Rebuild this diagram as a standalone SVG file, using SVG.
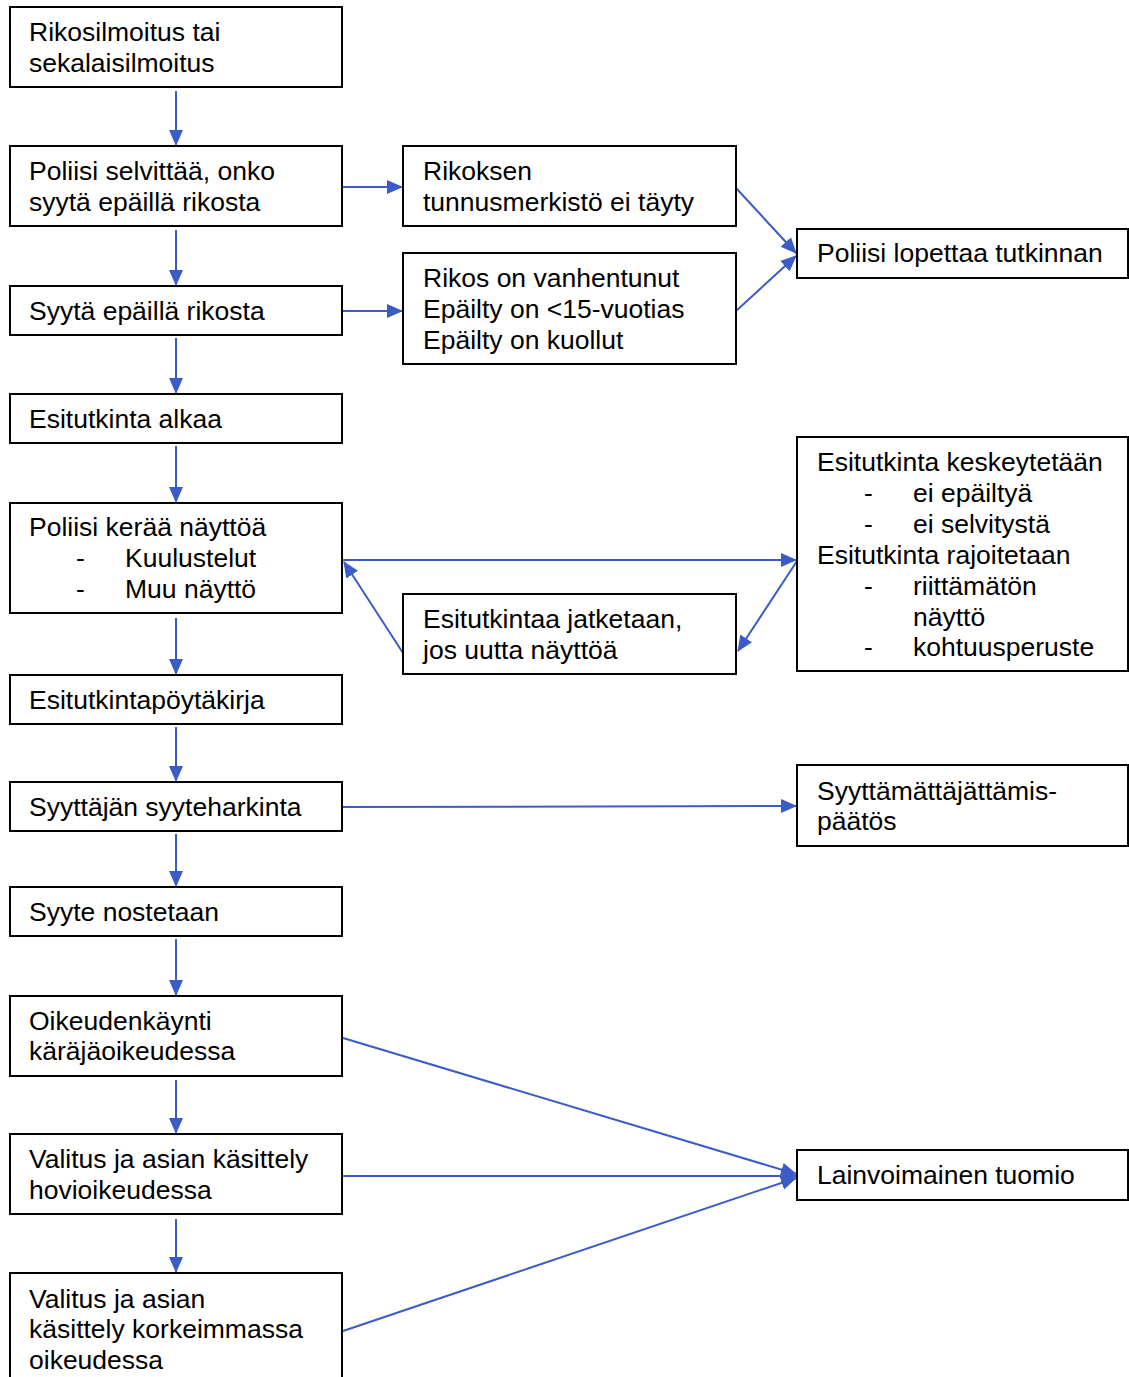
<svg xmlns="http://www.w3.org/2000/svg" width="1129" height="1377" viewBox="0 0 1129 1377">
<style>
.box{fill:#fff;stroke:#000;stroke-width:2}
text{font-family:"Liberation Sans",Arial,sans-serif;font-size:26.5px;fill:#000}
.c{stroke:#3B5BC6;stroke-width:2;fill:none;marker-end:url(#ah)}
</style>
<defs>
<marker id="ah" markerUnits="userSpaceOnUse" markerWidth="16" markerHeight="16" viewBox="0 0 16 16" refX="15" refY="8" orient="auto">
<path d="M0,1 L16,8 L0,15 Z" fill="#3B5BC6"/>
</marker>
</defs>
<g id="connectors">
<line class="c" x1="176" y1="91" x2="176" y2="145"/>
<line class="c" x1="176" y1="230" x2="176" y2="285"/>
<line class="c" x1="176" y1="338" x2="176" y2="393"/>
<line class="c" x1="176" y1="446" x2="176" y2="502"/>
<line class="c" x1="176" y1="618" x2="176" y2="674"/>
<line class="c" x1="176" y1="727" x2="176" y2="781"/>
<line class="c" x1="176" y1="834" x2="176" y2="886"/>
<line class="c" x1="176" y1="939" x2="176" y2="995"/>
<line class="c" x1="176" y1="1080" x2="176" y2="1133"/>
<line class="c" x1="176" y1="1219" x2="176" y2="1272"/>
<line class="c" x1="343" y1="187" x2="402" y2="187"/>
<line class="c" x1="343" y1="311" x2="402" y2="311"/>
<line class="c" x1="736" y1="188" x2="796" y2="253"/>
<line class="c" x1="736" y1="311" x2="796" y2="256"/>
<line class="c" x1="343" y1="560" x2="796" y2="560"/>
<line class="c" x1="403" y1="653" x2="344" y2="562"/>
<line class="c" x1="797" y1="561" x2="738" y2="651"/>
<line class="c" x1="343" y1="807" x2="796" y2="806"/>
<line class="c" x1="343" y1="1038" x2="796" y2="1174"/>
<line class="c" x1="343" y1="1176" x2="796" y2="1176"/>
<line class="c" x1="343" y1="1331" x2="796" y2="1178"/>
</g>
<g id="n1"><rect class="box" x="10" y="7" width="332" height="80"/><text x="29" y="41">Rikosilmoitus tai</text><text x="29" y="72">sekalaisilmoitus</text></g>
<g id="n2"><rect class="box" x="10" y="146" width="332" height="80"/><text x="29" y="180">Poliisi selvittää, onko</text><text x="29" y="211">syytä epäillä rikosta</text></g>
<g id="n3"><rect class="box" x="10" y="286" width="332" height="49"/><text x="29" y="320">Syytä epäillä rikosta</text></g>
<g id="n4"><rect class="box" x="10" y="394" width="332" height="49"/><text x="29" y="428">Esitutkinta alkaa</text></g>
<g id="n5"><rect class="box" x="10" y="503" width="332" height="110"/><text x="29" y="536">Poliisi kerää näyttöä</text><text x="76" y="567">-</text><text x="125" y="567">Kuulustelut</text><text x="76" y="598">-</text><text x="125" y="598">Muu näyttö</text></g>
<g id="n6"><rect class="box" x="10" y="675" width="332" height="49"/><text x="29" y="709">Esitutkintapöytäkirja</text></g>
<g id="n7"><rect class="box" x="10" y="782" width="332" height="49"/><text x="29" y="816">Syyttäjän syyteharkinta</text></g>
<g id="n8"><rect class="box" x="10" y="887" width="332" height="49"/><text x="29" y="921">Syyte nostetaan</text></g>
<g id="n9"><rect class="box" x="10" y="996" width="332" height="80"/><text x="29" y="1030">Oikeudenkäynti</text><text x="29" y="1060">käräjäoikeudessa</text></g>
<g id="n10"><rect class="box" x="10" y="1134" width="332" height="80"/><text x="29" y="1168">Valitus ja asian käsittely</text><text x="29" y="1199">hovioikeudessa</text></g>
<g id="n11"><rect class="box" x="10" y="1273" width="332" height="120"/><text x="29" y="1308">Valitus ja asian</text><text x="29" y="1338">käsittely korkeimmassa</text><text x="29" y="1369">oikeudessa</text></g>
<g id="m1"><rect class="box" x="403" y="146" width="333" height="80"/><text x="423" y="180">Rikoksen</text><text x="423" y="211">tunnusmerkistö ei täyty</text></g>
<g id="m2"><rect class="box" x="403" y="253" width="333" height="111"/><text x="423" y="287">Rikos on vanhentunut</text><text x="423" y="318">Epäilty on &lt;15-vuotias</text><text x="423" y="349">Epäilty on kuollut</text></g>
<g id="m3"><rect class="box" x="403" y="594" width="333" height="80"/><text x="423" y="628">Esitutkintaa jatketaan,</text><text x="423" y="659">jos uutta näyttöä</text></g>
<g id="r1"><rect class="box" x="797" y="229" width="331" height="49"/><text x="817" y="262">Poliisi lopettaa tutkinnan</text></g>
<g id="r2"><rect class="box" x="797" y="437" width="331" height="234"/><text x="817" y="471">Esitutkinta keskeytetään</text><text x="864" y="502">-</text><text x="913" y="502">ei epäiltyä</text><text x="864" y="533">-</text><text x="913" y="533">ei selvitystä</text><text x="817" y="564">Esitutkinta rajoitetaan</text><text x="864" y="595">-</text><text x="913" y="595">riittämätön</text><text x="913" y="626">näyttö</text><text x="864" y="656">-</text><text x="913" y="656">kohtuusperuste</text></g>
<g id="r3"><rect class="box" x="797" y="765" width="331" height="81"/><text x="817" y="800">Syyttämättäjättämis-</text><text x="817" y="830">päätös</text></g>
<g id="r4"><rect class="box" x="797" y="1150" width="331" height="50"/><text x="817" y="1184">Lainvoimainen tuomio</text></g>
</svg>
